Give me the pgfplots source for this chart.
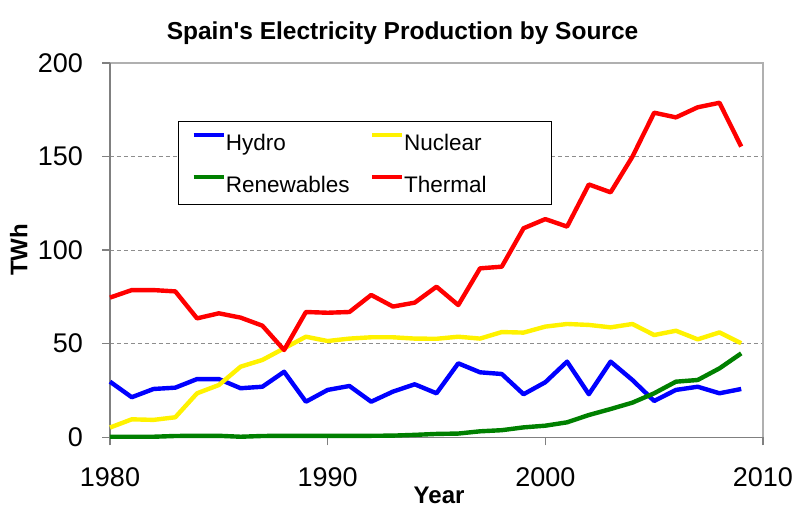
\documentclass[border=0pt]{standalone}
\usepackage{fontspec}
\setmainfont{Liberation Sans}
\usepackage{pgfplots}
\pgfplotsset{compat=1.18}
\usepackage{pgfplotstable}
\definecolor{axgray}{RGB}{128,128,128}
\definecolor{boxgray}{RGB}{176,176,176}
\definecolor{xgreen}{RGB}{0,128,0}
\pgfplotstableread{
Year Hydro Nuclear Renew Thermal
1980 29.7 5.2 0.3 74.6
1981 21.4 9.6 0.3 78.6
1982 25.8 9.3 0.3 78.6
1983 26.5 10.7 0.7 77.9
1984 31.1 23.5 0.8 63.5
1985 31.1 27.9 0.8 66.2
1986 26.2 37.7 0.3 63.9
1987 27.0 41.3 0.7 59.6
1988 35.0 47.5 0.8 46.6
1989 19.0 53.7 0.8 66.9
1990 25.3 51.4 0.8 66.5
1991 27.4 52.7 0.8 66.9
1992 19.0 53.4 0.8 76.0
1993 24.4 53.4 0.9 69.8
1994 28.3 52.7 1.3 71.9
1995 23.5 52.6 1.8 80.4
1996 39.5 53.7 2.0 70.6
1997 34.7 52.7 3.2 90.2
1998 33.8 56.2 3.8 91.1
1999 23.0 55.9 5.3 111.6
2000 29.4 59.1 6.2 116.5
2001 40.4 60.5 8.0 112.5
2002 23.0 60.0 11.9 135.0
2003 40.4 58.7 15.1 130.8
2004 30.6 60.5 18.5 149.8
2005 19.4 54.6 23.5 173.3
2006 25.3 56.9 29.7 170.8
2007 27.0 52.3 30.6 176.2
2008 23.5 56.0 36.8 178.6
2009 25.8 50.2 44.8 155.2
}\datatable
\begin{document}
\begin{tikzpicture}
\begin{axis}[
  scale only axis,
  width=326.5pt, height=187.3pt,
  xmin=1980, xmax=2010, ymin=0, ymax=200,
  xtick={1980,1990,2000,2010},
  ytick={0,50,100,150,200},
  axis line style={draw=none},
  tick align=outside,
  major tick length=4pt,
  tick style={axgray, line width=0.8pt},
  xtick pos=bottom, ytick pos=left,
  ymajorgrids,
  major grid style={boxgray!80!black, dash pattern=on 2pt off 1.5pt, line width=0.5pt},
  /pgf/number format/assume math mode=true,
  /pgf/number format/1000 sep={},
  ticklabel style={font=\fontsize{13.5}{15}\selectfont},
  xticklabel style={yshift=-7.5pt},
  yticklabel style={xshift=-6pt},
  xlabel={\bfseries Year},
  ylabel={\bfseries TWh},
  label style={font=\fontsize{12}{14}\selectfont},
  xlabel style={at={(axis description cs:0.504,0)}, anchor=base, yshift=-32.85pt},
  ylabel style={at={(axis description cs:-0.140,0.5)}, anchor=center},
  every axis title shift=0pt,
  title={\bfseries Spain\textquotesingle s Electricity Production by Source},
  title style={font=\fontsize{12.25}{14}\selectfont, at={(axis description cs:0.448,1)}, anchor=base, yshift=11.85pt},
  legend columns=2,
  legend style={at={(rel axis cs:0.104,0.844)}, anchor=north west,
    draw=black, line width=0.5pt, inner xsep=6.5pt, inner ysep=5pt,
    row sep=10.5pt, column sep=0pt,
    font=\fontsize{11.25}{13}\selectfont,
    nodes={inner sep=0pt, text height=9.5pt, text depth=1pt, anchor=west}},
  legend image code/.code={\draw[#1, line width=2.2pt] (0pt,3.5pt) -- (15pt,3.5pt);},
  every axis plot/.append style={line width=2.2pt, line join=round},
  clip=false,
]
\draw[boxgray, line width=0.8pt] (rel axis cs:0,1) -- (rel axis cs:1,1) -- (rel axis cs:1,0);
\draw[axgray, line width=0.8pt] (rel axis cs:0,1) -- (rel axis cs:0,0) -- (rel axis cs:1,0);
\addplot[blue] table[x=Year, y=Hydro] {\datatable};
\addlegendentry{\makebox[72pt][l]{Hydro}}
\addplot[yellow] table[x=Year, y=Nuclear] {\datatable};
\addlegendentry{\makebox[67pt][l]{Nuclear}}
\addplot[xgreen] table[x=Year, y=Renew] {\datatable};
\addlegendentry{\makebox[72pt][l]{Renewables}}
\addplot[red] table[x=Year, y=Thermal] {\datatable};
\addlegendentry{\makebox[67pt][l]{Thermal}}
\coordinate (sw) at (rel axis cs:0,0);
\end{axis}
\pgfresetboundingbox
\path[use as bounding box] (sw) ++(-55pt,-44.35pt) rectangle ++(400pt,263pt);
\end{tikzpicture}
\end{document}
